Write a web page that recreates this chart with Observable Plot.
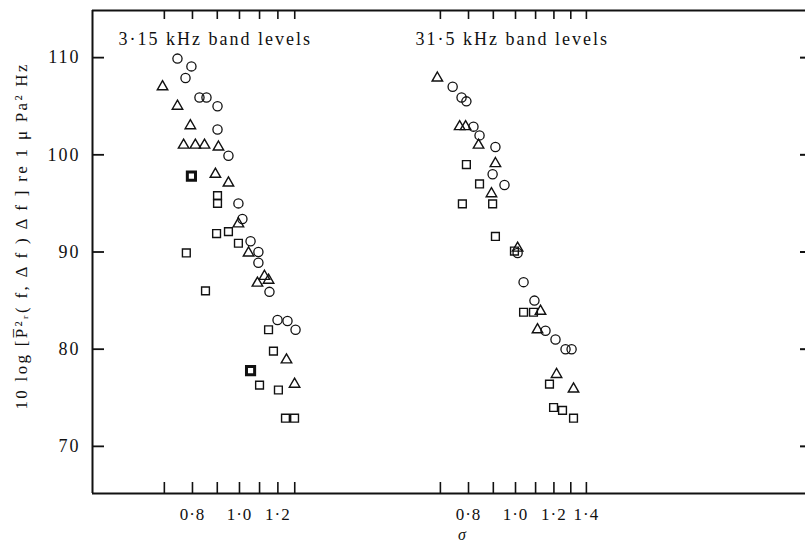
<!DOCTYPE html>
<html><head><meta charset="utf-8">
<script src="https://cdn.jsdelivr.net/npm/d3@7"></script>
<script src="https://cdn.jsdelivr.net/npm/@observablehq/plot@0.6"></script>
<style>
body{margin:0;background:#fff}
#chart svg text{letter-spacing:2px}
</style></head><body><div id="chart"></div>
<script>
// ---- 3.15 kHz band levels (left group) ----
const p1CircleSigma = [0.745, 0.796, 0.774, 0.827, 0.855, 0.901, 0.901, 0.949, 0.995, 1.014, 1.054, 1.094, 1.094, 1.153, 1.198, 1.256, 1.305];
const p1CircleLevel = [109.9, 109.1, 107.9, 105.9, 105.9, 105.0, 102.6, 99.9, 95.0, 93.4, 91.1, 90.0, 88.9, 85.9, 83.0, 82.9, 82.0];
const p1TriSigma = [0.694, 0.745, 0.792, 0.767, 0.811, 0.847, 0.905, 0.892, 0.949, 0.995, 1.044, 1.089, 1.126, 1.148, 1.250, 1.299];
const p1TriLevel = [107.0, 105.0, 103.0, 101.0, 101.0, 101.0, 100.8, 98.0, 97.1, 92.9, 89.9, 86.8, 87.5, 87.1, 78.9, 76.4];
const p1SquareSigma = [0.901, 0.901, 0.897, 0.949, 0.995, 0.777, 0.851, 1.148, 1.175, 1.100, 1.203, 1.244, 1.299];
const p1SquareLevel = [95.8, 95.0, 91.9, 92.1, 90.9, 89.9, 86.0, 82.0, 79.8, 76.3, 75.8, 72.9, 72.9];
const p1BoldSquareSigma = [0.796, 1.054];
const p1BoldSquareLevel = [97.8, 77.8];

// ---- 31.5 kHz band levels (right group) ----
const p2CircleSigma = [0.742, 0.774, 0.792, 0.819, 0.843, 0.909, 0.897, 0.949, 1.010, 1.039, 1.094, 1.153, 1.209, 1.268, 1.305];
const p2CircleLevel = [107.0, 105.9, 105.5, 102.9, 102.0, 100.8, 98.0, 96.9, 89.9, 86.9, 85.0, 81.9, 81.0, 80.0, 80.0];
const p2TriSigma = [0.690, 0.767, 0.789, 0.839, 0.909, 0.892, 1.010, 1.126, 1.110, 1.215, 1.317];
const p2TriLevel = [107.9, 102.9, 102.9, 101.0, 99.1, 96.0, 90.4, 83.9, 82.0, 77.4, 75.9];
const p2SquareSigma = [0.792, 0.843, 0.777, 0.897, 0.909, 0.995, 1.039, 1.089, 1.175, 1.198, 1.250, 1.317];
const p2SquareLevel = [99.0, 97.0, 94.95, 94.95, 91.6, 90.1, 83.8, 83.8, 76.4, 74.0, 73.7, 72.9];

// ---- axes ----
const p1Ticks = [0.7, 0.8, 0.9, 1.0, 1.1, 1.2, 1.3];
const p2Ticks = [0.7, 0.8, 0.9, 1.0, 1.1, 1.2, 1.3, 1.4];
const p1TickLabels = [0.8, 1.0, 1.2];
const p2TickLabels = [0.8, 1.0, 1.2, 1.4];
const yTicks = [70, 80, 90, 100, 110];
const panelTitles = ["3·15 kHz band levels", "31·5 kHz band levels"];
const yLabel = "10 log [P̅²ᵣ( f, Δ f ) Δ f ] re 1 μ Pa² Hz";
const xLabel = "σ";

// layout: the second group sits further right on the same log σ axis
const SHIFT = 3.708;
const pos = (panel, s) => panel === 2 ? s * SHIFT : s;
const xDomain = [0.4977, 14.69];
const yDomain = [65.15, 114.85];

const zip = (panel, S, L) => S.map((s, i) => ({panel, sigma: s, level: L[i]}));
const circles = [...zip(1, p1CircleSigma, p1CircleLevel), ...zip(2, p2CircleSigma, p2CircleLevel)];
const tris = [...zip(1, p1TriSigma, p1TriLevel), ...zip(2, p2TriSigma, p2TriLevel)];
const squares = [...zip(1, p1SquareSigma, p1SquareLevel), ...zip(2, p2SquareSigma, p2SquareLevel)];
const boldSquares = zip(1, p1BoldSquareSigma, p1BoldSquareLevel);

const fmt = v => d3.format(".1f")(v).replace(".", "·");
const tickPos = [...p1Ticks.map(t => pos(1, t)), ...p2Ticks.map(t => pos(2, t))];
const tickLabels = [
  ...p1TickLabels.map(t => ({x: pos(1, t), label: fmt(t)})),
  ...p2TickLabels.map(t => ({x: pos(2, t), label: fmt(t)}))
];
const X = d => pos(d.panel, d.sigma);
const ink = "#111";

const chart = Plot.plot({
  width: 805, height: 546,
  marginLeft: 92, marginRight: 0, marginTop: 10, marginBottom: 53,
  style: {fontFamily: "'Liberation Serif', 'DejaVu Serif', serif", fontSize: "18px", color: ink, background: "#fff"},
  x: {type: "log", domain: xDomain, axis: null},
  y: {domain: yDomain, axis: null},
  marks: [
    Plot.ruleX([xDomain[0]], {stroke: ink, strokeWidth: 2}),
    Plot.ruleY([yDomain[0], yDomain[1]], {stroke: ink, strokeWidth: 2}),
    Plot.axisY(yTicks, {anchor: "left", tickSize: -12, fill: "none", label: null, strokeWidth: 1.8}),
    Plot.axisY(yTicks, {anchor: "right", tickSize: -6, fill: "none", label: null, strokeWidth: 2}),
    Plot.axisY(yTicks, {anchor: "left", tickSize: 0, tickPadding: 12, label: null}),
    Plot.axisX(tickPos, {anchor: "bottom", tickSize: -11, fill: "none", label: null, strokeWidth: 1.6}),
    Plot.axisX(tickPos, {anchor: "top", tickSize: -8, fill: "none", label: null, strokeWidth: 1.6}),
    Plot.text(tickLabels, {x: "x", text: "label", frameAnchor: "bottom", lineAnchor: "top", dy: 14, fontSize: 17, fill: ink}),
    Plot.text([panelTitles[0]], {frameAnchor: "top-left", textAnchor: "start", lineAnchor: "middle", dx: 26, dy: 29, fill: ink}),
    Plot.text([panelTitles[1]], {frameAnchor: "top-left", textAnchor: "start", lineAnchor: "middle", dx: 323, dy: 29, fill: ink}),
    Plot.text([yLabel], {frameAnchor: "left", textAnchor: "middle", lineAnchor: "middle", rotate: -90, dx: -71, dy: -15, fontSize: 17, fill: ink}),
    Plot.text([xLabel], {frameAnchor: "bottom", dx: 14, dy: 46, fontStyle: "italic", fontSize: 16, fill: ink}),
    Plot.dot(circles, {x: X, y: "level", symbol: "circle", r: 4.6, stroke: ink, strokeWidth: 1.3, fill: "none"}),
    Plot.dot(tris, {x: X, y: "level", symbol: "triangle", r: 3.9, stroke: ink, strokeWidth: 1.4, fill: "none"}),
    Plot.dot(squares, {x: X, y: "level", symbol: "square", r: 4.4, stroke: ink, strokeWidth: 1.4, fill: "none"}),
    Plot.dot(boldSquares, {x: X, y: "level", symbol: "square", r: 4.6, stroke: ink, strokeWidth: 3, fill: "none"})
  ]
});
// tighter spacing for the tick labels and a fitted length for the long rotated label
d3.select(chart).selectAll("text").each(function () {
  const t = this.textContent;
  if (t === yLabel) {
    d3.select(this).style("letter-spacing", "0px").attr("textLength", 345).attr("lengthAdjust", "spacing");
  } else if (/^\d·\d$/.test(t)) {
    d3.select(this).style("letter-spacing", "1px");
  }
});
document.getElementById("chart").appendChild(chart);
</script></body></html>
